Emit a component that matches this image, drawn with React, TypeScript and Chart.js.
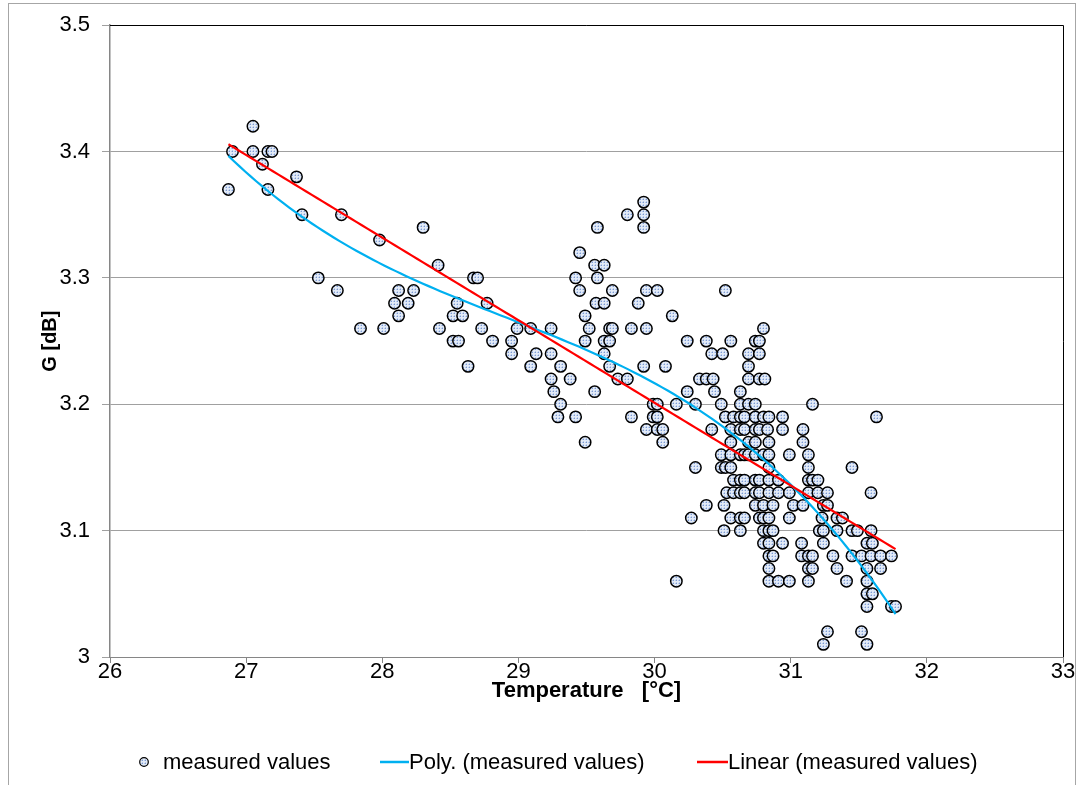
import React, { useEffect, useRef } from 'react';
import { Chart, registerables } from 'chart.js';

Chart.register(...registerables);

// ---- data ----
const gainLevels: number[] = [
  3.42, 3.40, 3.39, 3.38, 3.37, 3.36, 3.35, 3.34, 3.33, 3.32, 3.31, 3.30, 3.29, 3.28, 3.27,
  3.26, 3.25, 3.24, 3.23, 3.22, 3.21, 3.20, 3.19, 3.18, 3.17, 3.16, 3.15, 3.14, 3.13, 3.12,
  3.11, 3.10, 3.09, 3.08, 3.07, 3.06, 3.05, 3.04, 3.02, 3.01,
];

const tempsByLevel: number[][] = [
  [27.05],
  [26.90, 27.05, 27.16, 27.19],
  [27.12],
  [27.37],
  [26.87, 27.16],
  [29.92],
  [27.41, 27.70, 29.80, 29.92],
  [28.30, 29.58, 29.92],
  [27.98],
  [29.45],
  [28.41, 29.56, 29.63],
  [27.53, 28.67, 28.70, 29.42, 29.58],
  [27.67, 28.12, 28.23, 29.45, 29.69, 29.94, 30.02, 30.52],
  [28.09, 28.19, 28.55, 28.77, 29.57, 29.63, 29.88],
  [28.12, 28.52, 28.59, 29.49, 30.13],
  [27.84, 28.01, 28.42, 28.73, 28.99, 29.09, 29.24, 29.52, 29.67, 29.69, 29.83, 29.94, 30.80],
  [28.52, 28.56, 28.81, 28.95, 29.49, 29.63, 29.67, 30.24, 30.38, 30.56, 30.74, 30.77],
  [28.95, 29.13, 29.24, 29.63, 30.42, 30.50, 30.69, 30.77],
  [28.63, 29.09, 29.31, 29.67, 29.92, 30.08, 30.69],
  [29.24, 29.38, 29.73, 29.80, 30.33, 30.38, 30.43, 30.69, 30.77, 30.81],
  [29.26, 29.56, 30.24, 30.44, 30.63],
  [29.31, 29.99, 30.02, 30.16, 30.30, 30.49, 30.63, 30.69, 30.74, 31.16],
  [29.29, 29.42, 29.83, 29.99, 30.02, 30.52, 30.58, 30.63, 30.66, 30.74, 30.80, 30.84, 30.94, 31.63],
  [29.94, 30.02, 30.06, 30.42, 30.56, 30.63, 30.66, 30.74, 30.77, 30.83, 30.94, 31.09],
  [29.49, 30.06, 30.56, 30.69, 30.74, 30.84, 31.09],
  [30.49, 30.56, 30.63, 30.66, 30.69, 30.74, 30.80, 30.84, 30.99, 31.13],
  [30.30, 30.49, 30.52, 30.56, 30.84, 31.13, 31.45],
  [30.58, 30.63, 30.66, 30.74, 30.77, 30.84, 30.91, 31.13, 31.16, 31.20],
  [30.53, 30.58, 30.63, 30.66, 30.74, 30.77, 30.84, 30.91, 30.99, 31.13, 31.20, 31.27, 31.59],
  [30.38, 30.51, 30.74, 30.80, 30.87, 31.02, 31.09, 31.24, 31.27],
  [30.27, 30.56, 30.63, 30.66, 30.77, 30.80, 30.84, 30.99, 31.23, 31.34, 31.38],
  [30.51, 30.63, 30.80, 30.84, 30.87, 31.21, 31.24, 31.34, 31.45, 31.49, 31.59],
  [30.80, 30.84, 30.94, 31.08, 31.24, 31.56, 31.60],
  [30.84, 30.87, 31.08, 31.13, 31.16, 31.31, 31.45, 31.52, 31.59, 31.66, 31.74],
  [30.84, 31.13, 31.16, 31.34, 31.56, 31.66],
  [30.16, 30.84, 30.91, 30.99, 31.13, 31.41, 31.56],
  [31.56, 31.60],
  [31.56, 31.74, 31.77],
  [31.27, 31.52],
  [31.24, 31.56],
];

const X_MIN = 26;
const X_MAX = 33;
const Y_MIN = 3;
const Y_MAX = 3.5;
const X_STEP = 1;
const Y_STEP = 0.1;

const SERIES_LABEL = 'measured values';
const POLY_LABEL = 'Poly. (measured values)';
const LINEAR_LABEL = 'Linear (measured values)';
const X_TITLE = 'Temperature   [°C]';
const Y_TITLE = 'G [dB]';

const FONT = '"Liberation Sans", Arial, Helvetica, sans-serif';

// least-squares polynomial fit (what a spreadsheet trendline does)
function polyFit(xs: number[], ys: number[], deg: number) {
  const n = xs.length;
  const xm = xs.reduce((a, b) => a + b, 0) / n;
  const m = deg + 1;
  const A: number[][] = Array.from({ length: m }, () => new Array(m + 1).fill(0));
  for (let k = 0; k < n; k++) {
    const u = xs[k] - xm;
    const pw = [1];
    for (let i = 1; i < 2 * m; i++) pw.push(pw[i - 1] * u);
    for (let i = 0; i < m; i++) {
      for (let j = 0; j < m; j++) A[i][j] += pw[i + j];
      A[i][m] += ys[k] * pw[i];
    }
  }
  for (let c = 0; c < m; c++) {
    let p = c;
    for (let r = c + 1; r < m; r++) if (Math.abs(A[r][c]) > Math.abs(A[p][c])) p = r;
    [A[c], A[p]] = [A[p], A[c]];
    for (let r = 0; r < m; r++) {
      if (r === c) continue;
      const f = A[r][c] / A[c][c];
      for (let j = c; j <= m; j++) A[r][j] -= f * A[c][j];
    }
  }
  const coef = A.map((row, i) => row[m] / row[i]);
  return (x: number) => {
    const u = x - xm;
    let s = 0;
    let p = 1;
    for (let i = 0; i < m; i++) {
      s += coef[i] * p;
      p *= u;
    }
    return s;
  };
}

function makePattern(): CanvasPattern | string {
  const c = document.createElement('canvas');
  c.width = 3;
  c.height = 3;
  const g = c.getContext('2d');
  if (!g) return '#cfdcf1';
  g.fillStyle = '#e2eaf7';
  g.fillRect(0, 0, 3, 3);
  g.fillStyle = '#7d9bd3';
  g.fillRect(1, 1, 1, 1);
  g.fillStyle = '#b9cbea';
  g.fillRect(0, 1, 1, 1);
  g.fillRect(1, 0, 1, 1);
  const pat = g.createPattern(c, 'repeat');
  return pat || '#cfdcf1';
}

export default function App() {
  const ref = useRef<HTMLCanvasElement | null>(null);

  useEffect(() => {
    if (!ref.current) return;
    const pts: { x: number; y: number }[] = [];
    gainLevels.forEach((g, i) => tempsByLevel[i].forEach((t) => pts.push({ x: t, y: g })));
    const xs = pts.map((p) => p.x);
    const ys = pts.map((p) => p.y);
    const xLo = Math.min(...xs);
    const xHi = Math.max(...xs);
    const lin = polyFit(xs, ys, 1);
    const cub = polyFit(xs, ys, 3);
    const N = 120;
    const linPts: { x: number; y: number }[] = [];
    const cubPts: { x: number; y: number }[] = [];
    for (let i = 0; i <= N; i++) {
      const x = xLo + ((xHi - xLo) * i) / N;
      linPts.push({ x, y: lin(x) });
      cubPts.push({ x, y: cub(x) });
    }
    const pattern = makePattern();

    const framePlugin = {
      id: 'frame',
      beforeDatasetsDraw(chart: any) {
        const { ctx, chartArea } = chart;
        const { left, right, top, bottom } = chartArea;
        ctx.save();
        ctx.strokeStyle = '#000';
        ctx.lineWidth = 1;
        ctx.beginPath();
        ctx.moveTo(left, Math.round(top) + 0.5);
        ctx.lineTo(Math.round(right) + 0.5, Math.round(top) + 0.5);
        ctx.lineTo(Math.round(right) + 0.5, bottom);
        ctx.stroke();
        ctx.restore();
      },
    };

    const legendPlugin = {
      id: 'customLegend',
      afterDraw(chart: any) {
        const ctx: CanvasRenderingContext2D = chart.ctx;
        const y = 762;
        ctx.save();
        ctx.font = `22px ${FONT}`;
        ctx.textBaseline = 'middle';
        ctx.textAlign = 'left';
        // marker
        ctx.beginPath();
        ctx.arc(144, y, 4.3, 0, Math.PI * 2);
        ctx.fillStyle = pattern as any;
        ctx.fill();
        ctx.lineWidth = 1.2;
        ctx.strokeStyle = '#000';
        ctx.stroke();
        ctx.fillStyle = '#000';
        ctx.fillText(SERIES_LABEL, 163, y + 1);
        // poly
        ctx.beginPath();
        ctx.strokeStyle = '#00b0f0';
        ctx.lineWidth = 2.5;
        ctx.moveTo(380, y);
        ctx.lineTo(409, y);
        ctx.stroke();
        ctx.fillText(POLY_LABEL, 409, y + 1);
        // linear
        ctx.beginPath();
        ctx.strokeStyle = '#ff0000';
        ctx.moveTo(697, y);
        ctx.lineTo(728, y);
        ctx.stroke();
        ctx.fillText(LINEAR_LABEL, 728, y + 1);
        ctx.restore();
      },
    };

    const fmt = (v: any) => String(Number(Number(v).toFixed(2)));

    const chart = new Chart(ref.current, {
      type: 'scatter',
      data: {
        datasets: [
          {
            label: LINEAR_LABEL,
            type: 'line',
            data: linPts,
            borderColor: '#ff0000',
            borderWidth: 2.2,
            pointRadius: 0,
            fill: false,
            tension: 0,
            order: 0,
          } as any,
          {
            label: POLY_LABEL,
            type: 'line',
            data: cubPts,
            borderColor: '#00b0f0',
            borderWidth: 2.2,
            pointRadius: 0,
            fill: false,
            tension: 0,
            order: 1,
          } as any,
          {
            label: SERIES_LABEL,
            data: pts,
            pointRadius: 5.7,
            pointHoverRadius: 5.7,
            pointBorderWidth: 1.5,
            pointBorderColor: '#000',
            pointBackgroundColor: pattern as any,
            order: 2,
          } as any,
        ],
      },
      options: {
        animation: false,
        responsive: false,
        events: [],
        layout: { padding: { left: 0, right: 22, top: 22, bottom: 68 } },
        plugins: {
          legend: { display: false },
          tooltip: { enabled: false },
        },
        scales: {
          x: {
            type: 'linear',
            min: X_MIN,
            max: X_MAX,
            ticks: {
              stepSize: X_STEP,
              color: '#000',
              font: { family: FONT, size: 22, lineHeight: 1 },
              padding: -2,
              maxRotation: 0,
              callback: fmt,
            },
            grid: { drawOnChartArea: false, drawTicks: true, tickLength: 6, color: '#868686' },
            border: { display: true, color: '#868686', width: 1 },
            title: {
              display: true,
              text: X_TITLE,
              color: '#000',
              font: { family: FONT, size: 22, weight: 'bold' },
              padding: { top: 0, bottom: 13 },
            },
            afterFit: (s: any) => {
              s.height = 60;
            },
          },
          y: {
            type: 'linear',
            min: Y_MIN,
            max: Y_MAX,
            ticks: {
              stepSize: Y_STEP,
              color: '#000',
              font: { family: FONT, size: 22 },
              padding: 12,
              callback: fmt,
            },
            grid: { color: '#a0a0a0', lineWidth: 1, drawTicks: true, tickLength: 8 },
            border: { display: true, color: '#868686', width: 1.5 },
            title: {
              display: true,
              text: Y_TITLE,
              color: '#000',
              font: { family: FONT, size: 20, weight: 'bold' },
              padding: { top: 38, bottom: 0 },
            },
            afterFit: (s: any) => {
              s.width = 110;
            },
          },
        },
      } as any,
      plugins: [framePlugin, legendPlugin],
    });
    return () => chart.destroy();
  }, []);

  return (
    <div style={{ position: 'absolute', left: 0, top: 0, width: 1085, height: 785, overflow: 'hidden', background: '#fff' }}>
      <div
        style={{
          position: 'absolute',
          left: 8,
          top: 3,
          width: 1068,
          height: 800,
          border: '1px solid #a6a6a6',
          boxSizing: 'border-box',
        }}
      />
      <canvas ref={ref} width={1085} height={785} style={{ position: 'absolute', left: 0, top: 0 }} />
    </div>
  );
}
